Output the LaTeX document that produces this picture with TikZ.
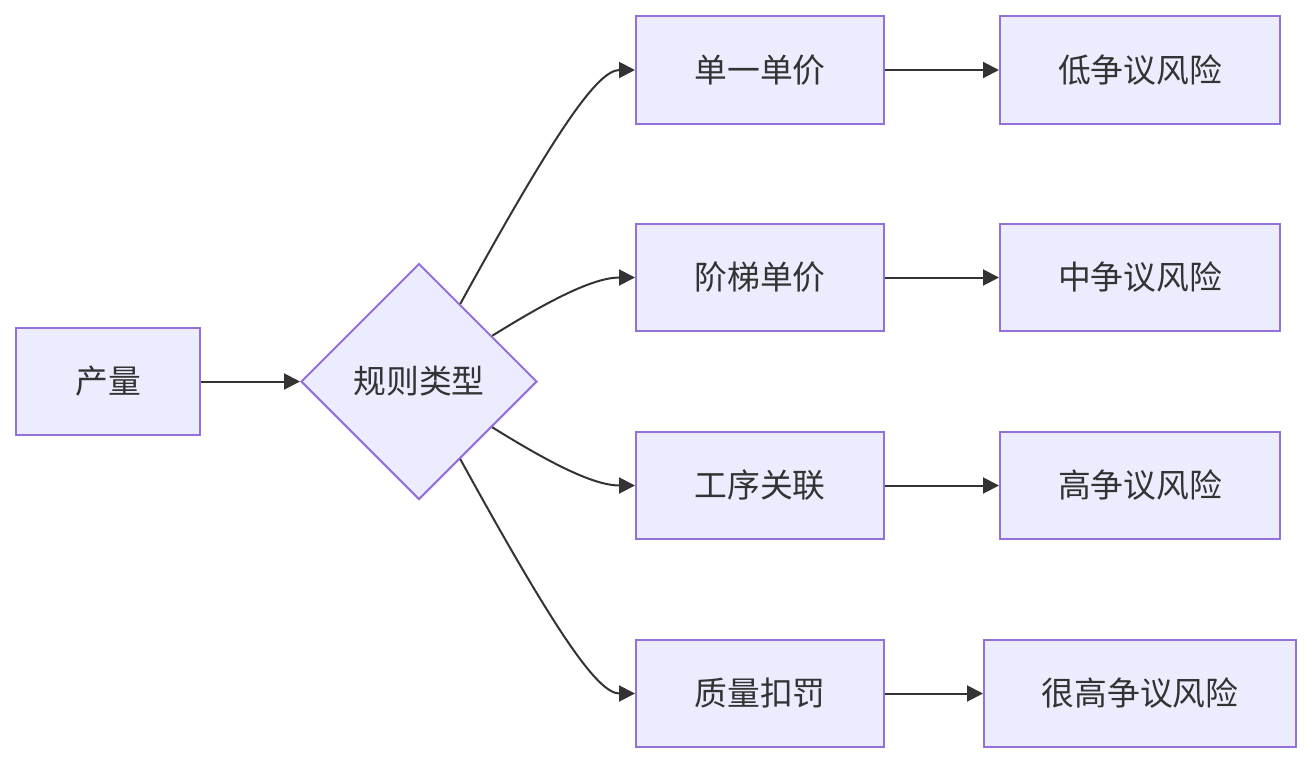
\documentclass[tikz,border=0pt]{standalone}
\usepackage{fontspec}
\setmainfont{Noto Sans CJK SC}
\usetikzlibrary{shapes.geometric,arrows.meta}
\definecolor{boxfill}{HTML}{ECECFF}
\definecolor{boxline}{HTML}{9370DB}
\definecolor{ink}{HTML}{333333}
\begin{document}
\begin{tikzpicture}[x=1pt,y=-1pt,
  box/.style={draw=boxline,fill=boxfill,line width=2pt,inner sep=0pt,text=ink,font=\fontsize{32.8}{38}\selectfont},
  dia/.style={diamond,draw=boxline,fill=boxfill,line width=2pt,inner sep=0pt,minimum width=236pt,minimum height=236pt,text=ink,font=\fontsize{32.8}{38}\selectfont},
  conn/.style={draw=ink,line width=2pt,-{Triangle[length=16pt,width=16pt]}}]
\useasboundingbox (0,0) rectangle (1312,764);
\node[box,minimum width=184pt,minimum height=107pt] (cl) at (108,381.5) {产量};
\node[dia] (rt) at (419,381.5) {规则类型};
\node[box,minimum width=248pt,minimum height=108pt] (a1) at (760,70) {单一单价};
\node[box,minimum width=248pt,minimum height=107pt] (a2) at (760,277.5) {阶梯单价};
\node[box,minimum width=248pt,minimum height=107pt] (a3) at (760,485.5) {工序关联};
\node[box,minimum width=248pt,minimum height=107pt] (a4) at (760,693.5) {质量扣罚};
\node[box,minimum width=280pt,minimum height=108pt] (r1) at (1140,70) {低争议风险};
\node[box,minimum width=280pt,minimum height=107pt] (r2) at (1140,277.5) {中争议风险};
\node[box,minimum width=280pt,minimum height=107pt] (r3) at (1140,485.5) {高争议风险};
\node[box,minimum width=312pt,minimum height=107pt] (r4) at (1140,693.5) {很高争议风险};
\draw[conn] (cl.east) -- (rt.west);
\draw[conn] (rt.62) .. controls (557,128) and (598,70) .. (a1.west);
\draw[conn] (rt.32) .. controls (545,303) and (592,277.5) .. (a2.west);
\draw[conn] (rt.-32) .. controls (545,460) and (592,485.5) .. (a3.west);
\draw[conn] (rt.-62) .. controls (557,635) and (598,693.5) .. (a4.west);
\draw[conn] (a1.east) -- (r1.west);
\draw[conn] (a2.east) -- (r2.west);
\draw[conn] (a3.east) -- (r3.west);
\draw[conn] (a4.east) -- (r4.west);
\end{tikzpicture}
\end{document}
